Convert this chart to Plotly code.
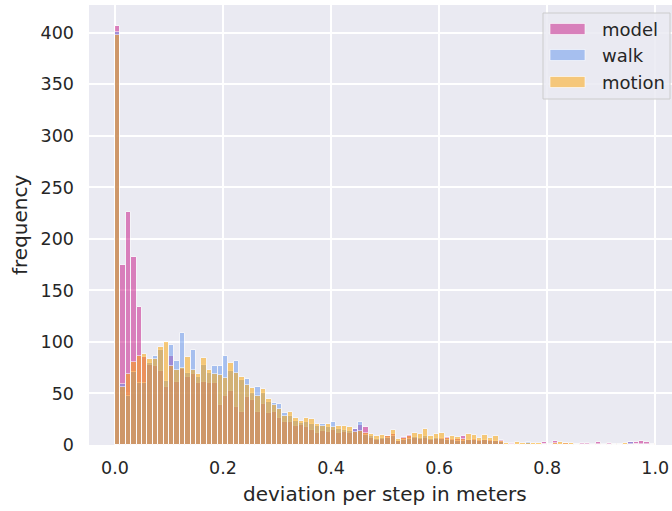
import plotly.graph_objects as go

# histogram bins: left edges of 0.01-wide bins from 0.00 to 0.99
bin_width = 0.01
bin_left = [round(i * bin_width, 2) for i in range(100)]
bin_center = [b + bin_width / 2 for b in bin_left]

model = [407, 175, 226, 182, 134, 85, 78, 77, 72, 56,
         86, 61, 74, 66, 69, 60, 61, 60, 60, 39,
         48, 52, 37, 32, 47, 44, 32, 40, 31, 32,
         26, 22, 22, 18, 19, 17, 15, 12, 14, 13,
         15, 12, 13, 12, 16, 19, 17, 7, 5, 6,
         9, 11, 4, 8, 10, 7, 6, 7, 5, 6,
         7, 8, 6, 6, 9, 5, 6, 5, 5, 5,
         4, 5, 1, 2, 1, 1, 1, 1, 1, 3,
         1, 4, 1, 2, 1, 1, 2, 2, 1, 3,
         1, 2, 0, 1, 1, 3, 3, 4, 3, 1]

walk = [401, 59, 48, 71, 60, 60, 80, 86, 92, 62,
        97, 82, 109, 70, 92, 66, 78, 70, 77, 77,
        86, 72, 82, 63, 64, 50, 56, 50, 42, 41,
        40, 31, 28, 23, 21, 22, 20, 18, 20, 17,
        22, 16, 15, 14, 16, 22, 10, 9, 6, 7,
        7, 9, 4, 5, 6, 8, 7, 9, 6, 7,
        6, 5, 5, 4, 4, 5, 5, 4, 5, 4,
        4, 3, 1, 1, 1, 1, 3, 1, 1, 1,
        0, 1, 1, 1, 0, 0, 0, 0, 0, 0,
        0, 0, 1, 0, 1, 3, 1, 1, 1, 0]

motion = [398, 56, 69, 81, 86, 88, 83, 83, 95, 100,
          77, 73, 75, 85, 73, 69, 84, 73, 69, 68,
          65, 80, 70, 66, 58, 55, 48, 54, 45, 39,
          35, 28, 32, 26, 23, 26, 25, 20, 18, 20,
          17, 18, 18, 17, 13, 14, 12, 11, 9, 10,
          9, 15, 6, 7, 9, 12, 11, 16, 9, 11,
          12, 7, 9, 8, 6, 11, 10, 7, 10, 7,
          9, 4, 2, 1, 3, 2, 2, 2, 2, 1,
          1, 2, 3, 2, 2, 1, 1, 1, 0, 1,
          0, 1, 1, 1, 2, 1, 1, 0, 0, 1]

series_names = ["model", "walk", "motion"]
series_values = [model, walk, motion]
series_colors = ["rgb(199,21,133)", "rgb(100,149,237)", "rgb(255,165,0)"]
legend_swatch = ["rgb(216,128,187)", "rgb(166,191,239)", "rgb(245,199,122)"]

x_ticks = [0.0, 0.2, 0.4, 0.6, 0.8, 1.0]
y_ticks = list(range(0, 401, 50))

TEXT = "#262626"
FONT = "DejaVu Sans"
BG = "#eaeaf2"

fig = go.Figure()
for name, vals, col in zip(series_names, series_values, series_colors):
    fig.add_trace(go.Bar(
        x=bin_center, y=vals, width=bin_width, name=name,
        marker=dict(color=col, line=dict(color="white", width=1)),
        opacity=0.5, showlegend=False,
    ))

W, H = 672, 511
L, R, T, B = 89, 0, 5, 66
pw, ph = W - L - R, H - T - B


def px(xp):
    return (xp - L) / pw


def py(yp):
    return (H - B - yp) / ph


# legend box (matplotlib-style)
shapes = [dict(type="rect", xref="paper", yref="paper",
               x0=px(543), x1=px(670), y0=py(99), y1=py(13),
               fillcolor="rgba(234,234,242,0.85)",
               line=dict(color="#cccccc", width=1), layer="above")]
annotations = []
row_y = [29, 55, 82]
for name, sw, yc in zip(series_names, legend_swatch, row_y):
    shapes.append(dict(type="rect", xref="paper", yref="paper",
                       x0=px(550), x1=px(585), y0=py(yc + 5.5), y1=py(yc - 5.5),
                       fillcolor=sw, line=dict(color="rgba(255,255,255,0.6)", width=1),
                       layer="above"))
    annotations.append(dict(text=name, xref="paper", yref="paper",
                            x=px(600), y=py(yc), xanchor="left", yanchor="middle",
                            showarrow=False, font=dict(family=FONT, size=18, color=TEXT)))

annotations.append(dict(text="deviation per step in meters", xref="x", yref="paper",
                        x=0.5, y=py(494), xanchor="center", yanchor="middle",
                        showarrow=False, font=dict(family=FONT, size=20, color=TEXT)))
annotations.append(dict(text="frequency", xref="paper", yref="paper",
                        x=px(20), y=py(225), xanchor="center", yanchor="middle",
                        textangle=-90, showarrow=False,
                        font=dict(family=FONT, size=20, color=TEXT)))

fig.update_layout(
    width=W, height=H,
    margin=dict(l=L, r=R, t=T, b=B, pad=0),
    paper_bgcolor="white", plot_bgcolor=BG,
    barmode="overlay", bargap=0,
    font=dict(family=FONT, size=17, color=TEXT),
    shapes=shapes, annotations=annotations,
    xaxis=dict(range=[-0.048, 1.031], tickvals=x_ticks, tickformat=".1f",
               showgrid=True, gridcolor="white", gridwidth=2, zeroline=False,
               showline=False, ticks="", ticklabelstandoff=10,
               tickfont=dict(family=FONT, size=17.5, color=TEXT)),
    yaxis=dict(range=[0, 427], tickvals=y_ticks,
               showgrid=True, gridcolor="white", gridwidth=2, zeroline=False,
               showline=False, ticks="", ticklabelstandoff=14,
               tickfont=dict(family=FONT, size=17.5, color=TEXT)),
)

fig.write_html("out.html")
